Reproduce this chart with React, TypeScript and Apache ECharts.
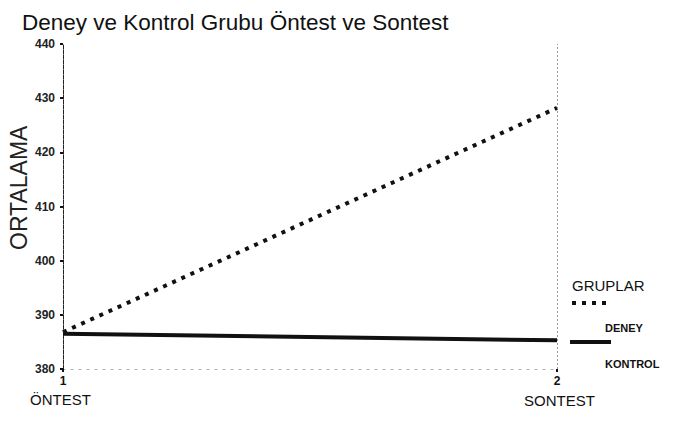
import React, { useEffect, useRef } from "react";
import * as echarts from "echarts";

const xValues = [1, 2];
const xPhaseLabels = ["ÖNTEST", "SONTEST"];
const deneyValues = [386.8, 428.2];
const kontrolValues = [386.5, 385.3];
const yTicks = [380, 390, 400, 410, 420, 430, 440];
const titleText = "Deney ve Kontrol Grubu Öntest ve Sontest";
const yName = "ORTALAMA";
const legendTitle = "GRUPLAR";
const legendNames = ["DENEY", "KONTROL"];

export default function App() {
  const ref = useRef<HTMLDivElement>(null);
  useEffect(() => {
    if (!ref.current) return;
    const chart = echarts.init(ref.current, undefined, { renderer: "svg" });
    const font = "Liberation Sans, Arial, sans-serif";
    chart.setOption({
      animation: false,
      backgroundColor: "#fff",
      title: {
        text: titleText,
        left: 17,
        top: 6,
        textStyle: { fontFamily: font, fontSize: 22.5, fontWeight: "normal", color: "#111" },
      },
      grid: { left: 63, right: 124, top: 44, bottom: 70 },
      xAxis: {
        type: "value",
        min: xValues[0],
        max: xValues[1],
        interval: 1,
        axisLine: { show: true, lineStyle: { color: "#aaa", type: [2, 6], width: 1 } },
        axisTick: { show: true, length: 3, lineStyle: { color: "#111", width: 2 } },
        splitLine: { show: false },
        axisLabel: { color: "#111", fontFamily: font, fontSize: 12, fontWeight: "bold", margin: 6 },
      },
      yAxis: {
        type: "value",
        min: yTicks[0],
        max: yTicks[yTicks.length - 1],
        interval: 10,
        axisLine: { show: true, lineStyle: { color: "#222", type: [4, 1], width: 1 } },
        axisTick: { show: true, length: 3, inside: false, lineStyle: { color: "#111", width: 2 } },
        splitLine: { show: false },
        axisLabel: { color: "#222", fontFamily: font, fontSize: 12, fontWeight: "bold", margin: 8 },
      },
      series: [
        {
          name: legendNames[0],
          type: "line",
          data: xValues.map((x, i) => [x, deneyValues[i]]),
          symbol: "none",
          lineStyle: { color: "#111", width: 4, type: [4, 6] },
          markLine: {
            silent: true,
            symbol: "none",
            label: { show: false },
            lineStyle: { color: "#999", type: [2, 2], width: 1 },
            data: [{ xAxis: xValues[1] }],
          },
        },
        {
          name: legendNames[1],
          type: "line",
          data: xValues.map((x, i) => [x, kontrolValues[i]]),
          symbol: "none",
          lineStyle: { color: "#111", width: 4, type: "solid" },
        },
      ],
      graphic: [
        {
          type: "text",
          x: 7,
          y: 250,
          rotation: Math.PI / 2,
          style: { text: yName, fontFamily: font, fontSize: 23, fill: "#222" },
        },
        {
          type: "text",
          x: 30,
          y: 392,
          style: { text: xPhaseLabels[0], fontFamily: font, fontSize: 15, fill: "#111" },
        },
        {
          type: "text",
          x: 524,
          y: 393,
          style: { text: xPhaseLabels[1], fontFamily: font, fontSize: 15, fill: "#111" },
        },
        {
          type: "text",
          x: 572,
          y: 278,
          style: { text: legendTitle, fontFamily: font, fontSize: 15, fill: "#111" },
        },
        {
          type: "line",
          shape: { x1: 572, y1: 303, x2: 612, y2: 303 },
          style: { stroke: "#111", lineWidth: 4, lineDash: [4, 6] },
        },
        {
          type: "text",
          x: 605,
          y: 322,
          style: { text: legendNames[0], fontFamily: font, fontSize: 11, fontWeight: "bold", fill: "#111" },
        },
        {
          type: "line",
          shape: { x1: 570, y1: 342, x2: 611, y2: 342 },
          style: { stroke: "#111", lineWidth: 4 },
        },
        {
          type: "text",
          x: 605,
          y: 358,
          style: { text: legendNames[1], fontFamily: font, fontSize: 11, fontWeight: "bold", fill: "#111" },
        },
      ],
    });
    return () => chart.dispose();
  }, []);
  return <div ref={ref} style={{ width: 681, height: 439, position: "absolute", left: 0, top: 0 }} />;
}
